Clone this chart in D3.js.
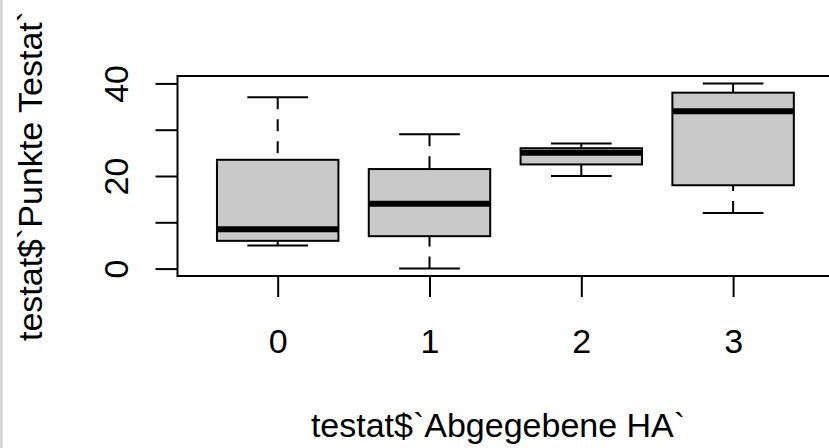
<!DOCTYPE html>
<html>
<head>
<meta charset="utf-8">
<script src="https://cdn.jsdelivr.net/npm/d3@7"></script>
<style>
  html, body { margin: 0; padding: 0; background: #fff; overflow: hidden; }
  body { border-left: 3px solid #d6d6d6; width: 826px; height: 448px; }
  svg { display: block; }
  text { font-family: "Liberation Sans", Arial, Helvetica, sans-serif; fill: #000; }
</style>
</head>
<body>
<div class="svg-target"></div>
<script>
// data
const groups = ['0', '1', '2', '3'];
const lowerWhisker = [5, 0, 20, 12];
const q1 = [6, 7, 22.5, 18];
const median = [8.5, 14, 25, 34];
const q3 = [23.5, 21.5, 26, 38];
const upperWhisker = [37, 29, 27, 40];
const yTicks = [0, 10, 20, 30, 40];
const yTickLabels = ['0', '', '20', '', '40'];

const w = 826;
const h = 448;
const fontSize = 34;

const data = groups.map((g, i) => ({
    g, i,
    lo: lowerWhisker[i], q1: q1[i], med: median[i], q3: q3[i], hi: upperWhisker[i]
}));

drawGraph = () => {
    const svg = d3.select('.svg-target')
        .append('svg')
        .attr('width', w)
        .attr('height', h);

    // R style scales: extended by 4% on each side
    const xScale = d3.scaleLinear()
        .domain([-0.66, 3.66])
        .range([174.5, 830.3]);

    const yScale = d3.scaleLinear()
        .domain([-1.6, 41.6])
        .range([276, 76]);

    const boxW = (xScale(1) - xScale(0)) * 0.8;
    const capW = boxW / 2;

    // plot frame
    svg.append('rect')
        .attr('x', xScale(-0.66))
        .attr('y', yScale(41.6))
        .attr('width', xScale(3.66) - xScale(-0.66))
        .attr('height', yScale(-1.6) - yScale(41.6))
        .attr('fill', 'none')
        .attr('stroke', '#000')
        .attr('stroke-width', 2);

    // y axis
    const yAxis = d3.axisLeft(yScale)
        .tickValues(yTicks)
        .tickSize(22)
        .tickFormat((d, i) => yTickLabels[i]);

    const yg = svg.append('g')
        .attr('transform', `translate(${xScale(-0.66)}, 0)`)
        .call(yAxis);
    yg.select('.domain').remove();
    yg.selectAll('line').attr('stroke', '#000').attr('stroke-width', 2);
    yg.selectAll('text')
        .attr('x', null)
        .attr('dy', null)
        .attr('text-anchor', 'middle')
        .attr('font-size', fontSize)
        .attr('transform', 'translate(-50, 0) rotate(-90)');

    // x axis
    const xAxis = d3.axisBottom(xScale)
        .tickValues(data.map(d => d.i))
        .tickSize(21)
        .tickFormat(i => groups[i]);

    const xg = svg.append('g')
        .attr('transform', `translate(0, ${yScale(-1.6)})`)
        .call(xAxis);
    xg.select('.domain').remove();
    xg.selectAll('line').attr('stroke', '#000').attr('stroke-width', 2);
    xg.selectAll('text')
        .attr('y', 77)
        .attr('dy', null)
        .attr('font-size', fontSize);

    // boxes
    const box = svg.selectAll('g.box')
        .data(data)
        .enter()
        .append('g')
            .attr('class', 'box');

    // whiskers (dashed)
    box.append('line')
        .attr('x1', d => xScale(d.i)).attr('x2', d => xScale(d.i))
        .attr('y1', d => yScale(d.hi)).attr('y2', d => yScale(d.q3))
        .attr('stroke', '#000').attr('stroke-width', 2)
        .attr('stroke-dasharray', '12,10');
    box.append('line')
        .attr('x1', d => xScale(d.i)).attr('x2', d => xScale(d.i))
        .attr('y1', d => yScale(d.lo)).attr('y2', d => yScale(d.q1))
        .attr('stroke', '#000').attr('stroke-width', 2)
        .attr('stroke-dasharray', '12,10');

    // whisker caps
    box.append('line')
        .attr('x1', d => xScale(d.i) - capW / 2).attr('x2', d => xScale(d.i) + capW / 2)
        .attr('y1', d => yScale(d.hi)).attr('y2', d => yScale(d.hi))
        .attr('stroke', '#000').attr('stroke-width', 2);
    box.append('line')
        .attr('x1', d => xScale(d.i) - capW / 2).attr('x2', d => xScale(d.i) + capW / 2)
        .attr('y1', d => yScale(d.lo)).attr('y2', d => yScale(d.lo))
        .attr('stroke', '#000').attr('stroke-width', 2);

    // box body
    box.append('rect')
        .attr('x', d => xScale(d.i) - boxW / 2)
        .attr('y', d => yScale(d.q3))
        .attr('width', boxW)
        .attr('height', d => yScale(d.q1) - yScale(d.q3))
        .attr('fill', '#c9c9c9')
        .attr('stroke', '#000')
        .attr('stroke-width', 2);

    // median
    box.append('line')
        .attr('x1', d => xScale(d.i) - boxW / 2).attr('x2', d => xScale(d.i) + boxW / 2)
        .attr('y1', d => yScale(d.med)).attr('y2', d => yScale(d.med))
        .attr('stroke', '#000').attr('stroke-width', 6);

    // axis titles
    svg.append('text')
        .attr('x', 495)
        .attr('y', 437)
        .attr('text-anchor', 'middle')
        .attr('font-size', fontSize)
        .text('testat$`Abgegebene HA`');

    svg.append('text')
        .attr('transform', `translate(39, ${(yScale(-1.6) + yScale(41.6)) / 2}) rotate(-90)`)
        .attr('text-anchor', 'middle')
        .attr('font-size', fontSize)
        .text('testat$`Punkte Testat`');
};

drawGraph();
</script>
</body>
</html>
